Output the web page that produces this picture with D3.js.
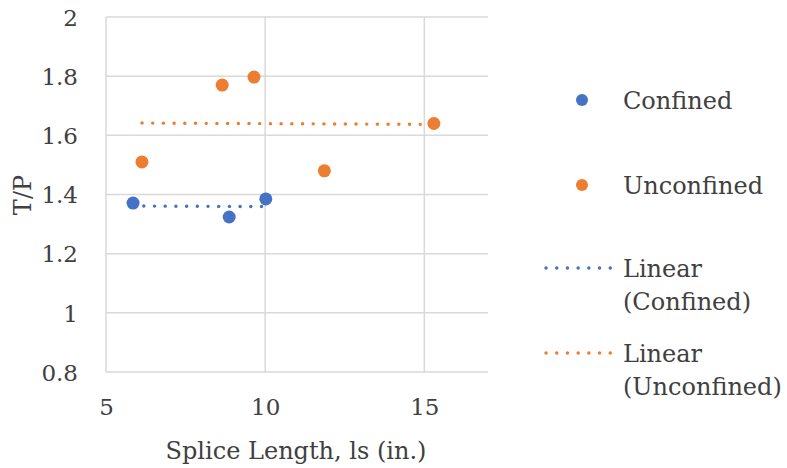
<!DOCTYPE html>
<html>
<head>
<meta charset="utf-8">
<script src="https://cdn.jsdelivr.net/npm/d3@7"></script>
<style>
  html, body { margin: 0; padding: 0; background: #fff; }
  svg text { font-family: "DejaVu Serif", serif; fill: #404040; }
</style>
</head>
<body>
<svg id="chart" width="787" height="468"></svg>
<script>
// ---- data ----
const confinedX = [5.85, 8.87, 10.02];
const confinedY = [1.371, 1.324, 1.385];
const unconfinedX = [6.13, 8.65, 9.65, 11.86, 15.3];
const unconfinedY = [1.51, 1.77, 1.797, 1.48, 1.64];
const xTicks = [5, 10, 15];
const yTicks = [0.8, 1, 1.2, 1.4, 1.6, 1.8, 2];
const seriesNames = ["Confined", "Unconfined"];
const trendNames = [["Linear", "(Confined)"], ["Linear", "(Unconfined)"]];
const colors = ["#4472c4", "#ed7d31"];

// ---- layout ----
const FS = 24, TFS = 23;
const svg = d3.select("#chart");
const plot = { left: 106, right: 488, top: 17, bottom: 372 };
const x = d3.scaleLinear().domain([5, 17]).range([plot.left, plot.right]);
const y = d3.scaleLinear().domain([0.8, 2]).range([plot.bottom, plot.top]);

// gridlines
const grid = svg.append("g");
grid.selectAll("line.h").data(yTicks).join("line")
  .attr("x1", plot.left).attr("x2", plot.right)
  .attr("y1", d => y(d)).attr("y2", d => y(d))
  .attr("stroke", "#d9d9d9").attr("stroke-width", 1.5);
grid.selectAll("line.v").data(xTicks).join("line")
  .attr("y1", plot.top).attr("y2", plot.bottom)
  .attr("x1", d => x(d)).attr("x2", d => x(d))
  .attr("stroke", "#d9d9d9").attr("stroke-width", 1.5);

// axes (labels only)
const yAxis = d3.axisLeft(y).tickValues(yTicks).tickSize(0).tickPadding(0).tickFormat(d3.format("~g"));
const gy = svg.append("g").attr("transform", `translate(${plot.left - 28},0)`).call(yAxis);
gy.select(".domain").remove();
gy.selectAll("text").attr("font-size", TFS).attr("dy", "0.36em");

const xAxis = d3.axisBottom(x).tickValues(xTicks).tickSize(0).tickPadding(0).tickFormat(d3.format("~g"));
const gx = svg.append("g").attr("transform", `translate(0,${plot.bottom + 43})`).call(xAxis);
gx.select(".domain").remove();
gx.selectAll("text").attr("font-size", TFS).attr("y", 0).attr("dy", 0);

// axis titles
svg.append("text").attr("x", 296).attr("y", 459).attr("text-anchor", "middle")
  .attr("font-size", FS).text("Splice Length, ls (in.)");
svg.append("text").attr("transform", "translate(31,195) rotate(-90)")
  .attr("text-anchor", "middle").attr("font-size", FS).text("T/P");

// trendlines (least squares)
function fit(xs, ys) {
  const mx = d3.mean(xs), my = d3.mean(ys);
  const sxy = d3.sum(xs, (v, i) => (v - mx) * (ys[i] - my));
  const sxx = d3.sum(xs, v => (v - mx) * (v - mx));
  const b = sxy / sxx, a = my - b * mx;
  const x0 = d3.min(xs), x1 = d3.max(xs);
  return [[x0, a + b * x0], [x1, a + b * x1]];
}
const trends = [fit(confinedX, confinedY), fit(unconfinedX, unconfinedY)];
const line = d3.line().x(d => x(d[0])).y(d => y(d[1]));
trends.forEach((t, i) => {
  svg.append("path").attr("d", line(t)).attr("fill", "none")
    .attr("stroke", colors[i]).attr("stroke-width", 3.4)
    .attr("stroke-linecap", "round").attr("stroke-dasharray", "0.1 10.6");
});

// points
const sets = [
  confinedX.map((v, i) => [v, confinedY[i]]),
  unconfinedX.map((v, i) => [v, unconfinedY[i]])
];
sets.forEach((s, i) => {
  svg.append("g").selectAll("circle").data(s).join("circle")
    .attr("cx", d => x(d[0])).attr("cy", d => y(d[1])).attr("r", 6.5)
    .attr("fill", colors[i]);
});

// legend
const lg = svg.append("g");
const markerY = [100, 185];
seriesNames.forEach((n, i) => {
  lg.append("circle").attr("cx", 582).attr("cy", markerY[i]).attr("r", 6).attr("fill", colors[i]);
  lg.append("text").attr("x", 623).attr("y", markerY[i]).attr("dy", "0.36em")
    .attr("font-size", FS).text(n);
});
const lineY = [268, 353];
trendNames.forEach((n, i) => {
  lg.append("line").attr("x1", 546).attr("x2", 613).attr("y1", lineY[i]).attr("y2", lineY[i])
    .attr("stroke", colors[i]).attr("stroke-width", 3.4)
    .attr("stroke-linecap", "round").attr("stroke-dasharray", "0.1 10.6");
  const t = lg.append("text").attr("x", 623).attr("y", lineY[i]).attr("font-size", FS);
  t.append("tspan").attr("x", 623).attr("dy", "0.36em").text(n[0]);
  t.append("tspan").attr("x", 623).attr("dy", 33).text(n[1]);
});
</script>
</body>
</html>
